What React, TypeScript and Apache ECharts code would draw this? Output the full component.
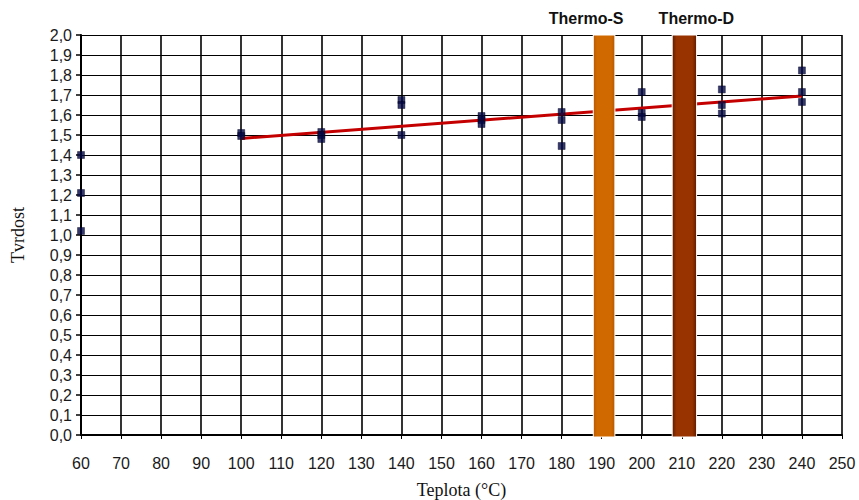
import React, { useEffect, useRef } from "react";
import * as echarts from "echarts";

const sampleTemps = [60, 60, 60, 100, 100, 120, 120, 120, 140, 140, 140, 160, 160, 160, 180, 180, 180, 200, 200, 200, 220, 220, 220, 240, 240, 240];
const hardness = [1.4, 1.21, 1.02, 1.51, 1.495, 1.515, 1.5, 1.48, 1.675, 1.65, 1.5, 1.595, 1.575, 1.555, 1.615, 1.575, 1.445, 1.715, 1.61, 1.59, 1.728, 1.65, 1.607, 1.823, 1.715, 1.665];

const trendTemps = [100, 240];
const trendValues = [1.483, 1.695];

const zoneNames = ["Thermo-S", "Thermo-D"];
const zoneStart = [187.9, 207.6];
const zoneEnd = [193.3, 213.7];

const zoneColors = [
  { edge: "#b85800", mid: "#d06a00" },
  { edge: "#5e1c00", mid: "#983300" },
];
const labelShift = [-18, 12];

export default function App() {
  const ref = useRef<HTMLDivElement>(null);
  useEffect(() => {
    if (!ref.current) return;
    const chart = echarts.init(ref.current, null, { renderer: "svg" });
    const scatterData = sampleTemps.map((t, i) => [t, hardness[i]]);
    const trendData = trendTemps.map((t, i) => [t, trendValues[i]]);
    const zoneData = zoneNames.map((n, i) => [zoneStart[i], zoneEnd[i], i]);
    const sans = "'Liberation Sans', Arial, sans-serif";
    const serif = "'Liberation Serif', 'Times New Roman', serif";
    chart.setOption({
      animation: false,
      backgroundColor: "#ffffff",
      grid: { left: 81, right: 17, top: 35, bottom: 65, containLabel: false, outerBoundsMode: "none" },
      xAxis: {
        type: "value",
        min: 60,
        max: 250,
        interval: 10,
        name: "Teplota (°C)",
        nameLocation: "middle",
        nameGap: 46,
        nameTextStyle: { fontFamily: serif, fontSize: 18, color: "#111" },
        axisLine: { show: true, lineStyle: { color: "#000", width: 2 } },
        axisTick: { show: true, length: 4, lineStyle: { color: "#000", width: 1 } },
        axisLabel: { fontFamily: sans, fontSize: 16, color: "#1a1a1a", margin: 20 },
        splitLine: { show: true, lineStyle: { color: "#000", width: 1.6 } },
      },
      yAxis: {
        type: "value",
        min: 0,
        max: 2,
        interval: 0.1,
        name: "Tvrdost",
        nameLocation: "middle",
        nameGap: 54,
        nameTextStyle: { fontFamily: serif, fontSize: 18, color: "#111" },
        axisLine: { show: true, lineStyle: { color: "#000", width: 2 } },
        axisTick: { show: true, length: 5, lineStyle: { color: "#000", width: 1.5 } },
        axisLabel: {
          fontFamily: sans,
          fontSize: 16,
          color: "#1a1a1a",
          margin: 9,
          formatter: (v: number) => v.toFixed(1).replace(".", ","),
        },
        splitLine: { show: true, lineStyle: { color: "#000", width: 1.2 } },
      },
      series: [
        {
          type: "line",
          data: trendData,
          symbol: "none",
          lineStyle: { color: "#c40000", width: 3 },
          z: 3,
        },
        {
          type: "scatter",
          data: scatterData,
          symbol: "rect",
          symbolSize: 7,
          itemStyle: { color: "#030844", borderColor: "#000020", borderWidth: 0.5 },
          z: 4,
        },
        {
          type: "custom",
          data: zoneData,
          z: 5,
          clip: false,
          renderItem: (params: any, api: any) => {
            const idx = api.value(2);
            const p0 = api.coord([api.value(0), 2]);
            const p1 = api.coord([api.value(1), 0]);
            const c = zoneColors[idx];
            return {
              type: "group",
              children: [
                {
                  type: "rect",
                  shape: { x: p0[0], y: p0[1], width: p1[0] - p0[0], height: p1[1] - p0[1] + 2 },
                  style: {
                    fill: new echarts.graphic.LinearGradient(0, 0, 1, 0, [
                      { offset: 0, color: c.edge },
                      { offset: 0.18, color: c.mid },
                      { offset: 0.82, color: c.mid },
                      { offset: 1, color: c.edge },
                    ]),
                    stroke: "#ffffff",
                    lineWidth: 1,
                  },
                },
                {
                  type: "text",
                  style: {
                    text: zoneNames[idx],
                    x: (p0[0] + p1[0]) / 2 + labelShift[idx],
                    y: p0[1] - 17,
                    align: "center",
                    verticalAlign: "middle",
                    fontFamily: sans,
                    fontWeight: "bold",
                    fontSize: 16,
                    fill: "#111",
                  },
                },
              ],
            };
          },
        },
      ],
    });
    return () => chart.dispose();
  }, []);
  return <div ref={ref} style={{ position: "fixed", left: 0, top: 0, width: 859, height: 500 }} />;
}
